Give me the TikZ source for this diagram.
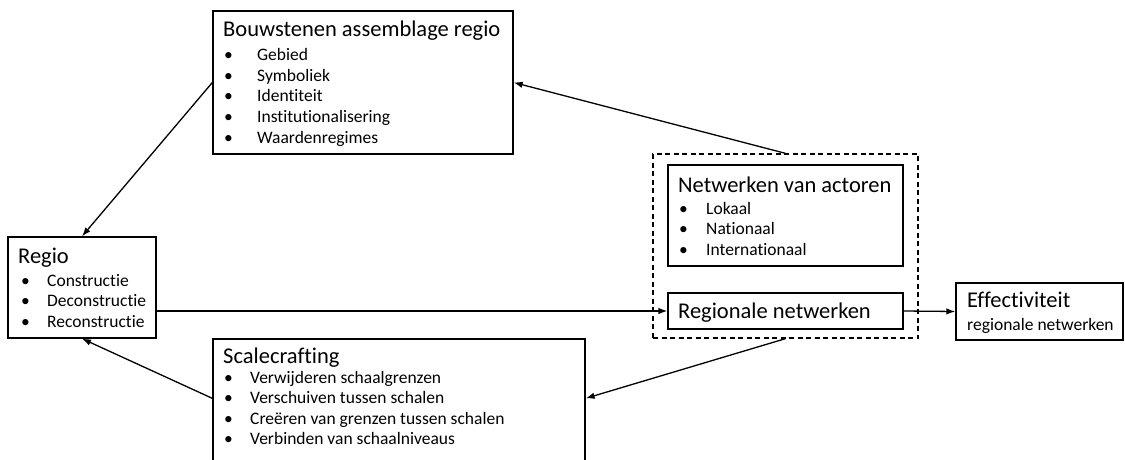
\documentclass[tikz,border=0pt]{standalone}
\usepackage{fontspec}
\setmainfont[Ligatures={NoCommon}]{Carlito}
\usetikzlibrary{arrows.meta,calc}
\tikzset{
  box/.style={draw, line width=1.3pt, inner sep=0pt, rectangle},
  dbox/.style={draw, line width=1.3pt, inner sep=0pt, rectangle, dash pattern=on 5pt off 3.5pt},
  hdr/.style={anchor=base west, inner sep=0pt, font=\fontsize{22.5}{24}\selectfont},
  itm/.style={anchor=base west, inner sep=0pt, font=\fontsize{17.5}{20}\selectfont},
  conn/.style={line width=1.3pt, -{Latex[length=9pt,width=6.5pt]}}
}
\begin{document}
\begin{tikzpicture}[x=1pt,y=-1pt]
\clip (0,0) rectangle (1125,460);
\fill[white] (0,0) rectangle (1125,460);
% boxes
\node[box, minimum width=300pt, minimum height=143pt] (bouw) at (363,82.5) {};
\node[box, minimum width=148pt, minimum height=101pt] (regio) at (82,287.5) {};
\node[dbox, minimum width=265pt, minimum height=184pt] (dash) at (785.5,246) {};
\node[box, minimum width=235pt, minimum height=101pt] (netw) at (785.5,215.5) {};
\node[box, minimum width=235pt, minimum height=36pt] (regnet) at (785.5,311) {};
\node[box, minimum width=167pt, minimum height=57pt] (eff) at (1039.5,311.5) {};
\node[box, minimum width=372pt, minimum height=131pt] (scale) at (399,404.5) {};
% Bouwstenen texts
\node[hdr] (bh) at (223,37) {Bouwstenen assemblage regio};
\node[itm] (bb1) at (224,61) {•}; \node[itm] (bt1) at (257,61) {Gebied};
\node[itm] (bb2) at (224,81.5) {•}; \node[itm] (bt2) at (257,81.5) {Symboliek};
\node[itm] (bb3) at (224,102) {•}; \node[itm] (bt3) at (257,102) {Identiteit};
\node[itm] (bb4) at (224,122.5) {•}; \node[itm] (bt4) at (257,122.5) {Institutionalisering};
\node[itm] (bb5) at (224,143) {•}; \node[itm] (bt5) at (257,143) {Waardenregimes};
% Regio texts
\node[hdr] (rh) at (18,263) {Regio};
\node[itm] (rb1) at (21,286) {•}; \node[itm] (rt1) at (47,286) {Constructie};
\node[itm] (rb2) at (21,306.5) {•}; \node[itm] (rt2) at (47,306.5) {Deconstructie};
\node[itm] (rb3) at (21,327) {•}; \node[itm] (rt3) at (47,327) {Reconstructie};
% Netwerken texts
\node[hdr] (nh) at (678,192) {Netwerken van actoren};
\node[itm] (nb1) at (679,214) {•}; \node[itm] (nt1) at (706,214) {Lokaal};
\node[itm] (nb2) at (679,234.5) {•}; \node[itm] (nt2) at (706,234.5) {Nationaal};
\node[itm] (nb3) at (679,255) {•}; \node[itm] (nt3) at (706,255) {Internationaal};
% Regionale netwerken
\node[hdr] (rnh) at (678,318) {Regionale netwerken};
% Effectiviteit
\node[hdr] (eh) at (967,307) {Effectiviteit};
\node[itm] (et) at (967,330) {regionale netwerken};
% Scalecrafting
\node[hdr] (sh) at (223,363) {Scalecrafting};
\node[itm] (sb1) at (224,383) {•}; \node[itm] (st1) at (250,383) {Verwijderen schaalgrenzen};
\node[itm] (sb2) at (224,403.5) {•}; \node[itm] (st2) at (250,403.5) {Verschuiven tussen schalen};
\node[itm] (sb3) at (224,424) {•}; \node[itm] (st3) at (250,424) {Creëren van grenzen tussen schalen};
\node[itm] (sb4) at (224,444.5) {•}; \node[itm] (st4) at (250,444.5) {Verbinden van schaalniveaus};
% connectors
\coordinate (scE) at ([yshift=-60pt]scale.north east);
\coordinate (scW) at ([yshift=-60pt]scale.north west);
\draw[conn] (bouw.west) -- (regio.north);
\draw[conn] (dash.north) -- (bouw.east);
\draw[conn] (regio.east |- regnet.west) -- (regnet.west);
\draw[conn] (regnet.east) -- (eff.west);
\draw[conn] (dash.south) -- (scE);
\draw[conn] (scW) -- (regio.south);
\end{tikzpicture}
\end{document}
